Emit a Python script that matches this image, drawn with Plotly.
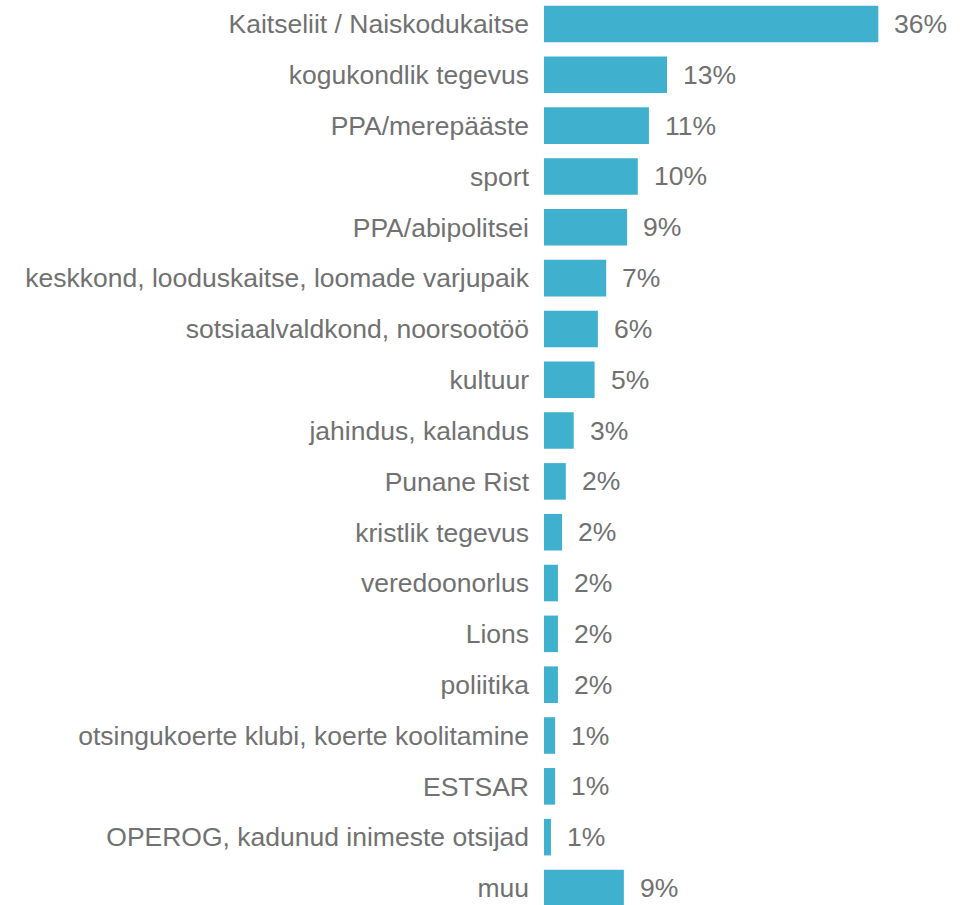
import plotly.graph_objects as go

categories = [
    "Kaitseliit / Naiskodukaitse",
    "kogukondlik tegevus",
    "PPA/merepääste",
    "sport",
    "PPA/abipolitsei",
    "keskkond, looduskaitse, loomade varjupaik",
    "sotsiaalvaldkond, noorsootöö",
    "kultuur",
    "jahindus, kalandus",
    "Punane Rist",
    "kristlik tegevus",
    "veredoonorlus",
    "Lions",
    "poliitika",
    "otsingukoerte klubi, koerte koolitamine",
    "ESTSAR",
    "OPEROG, kadunud inimeste otsijad",
    "muu",
]
values = [36.0, 13.25, 11.3, 10.1, 8.95, 6.7, 5.8, 5.45, 3.2, 2.35, 1.95, 1.5,
          1.5, 1.5, 1.2, 1.2, 0.75, 8.6]
value_labels = ["36%", "13%", "11%", "10%", "9%", "7%", "6%", "5%", "3%", "2%",
                "2%", "2%", "2%", "2%", "1%", "1%", "1%", "9%"]

BAR = "#3FB0CD"
TXT = "#717171"
FONT = "Liberation Sans, Arial, sans-serif"
FS = 26.5

fig = go.Figure()
fig.add_trace(go.Bar(
    x=values, y=categories, orientation="h",
    marker=dict(color=BAR, line=dict(width=0)),
    width=0.72,
    hoverinfo="skip",
))

for c, v, t in zip(categories, values, value_labels):
    fig.add_annotation(x=v, y=c, text=t, showarrow=False, xanchor="left",
                       yanchor="middle", xshift=14,
                       font=dict(family=FONT, size=FS, color=TXT))

fig.update_layout(
    width=973, height=905,
    margin=dict(l=544, r=0, t=0, b=0, pad=0),
    plot_bgcolor="white", paper_bgcolor="white",
    showlegend=False,
    font=dict(family=FONT, size=FS, color=TXT),
    xaxis=dict(range=[0, 46.2], visible=False, fixedrange=True),
    yaxis=dict(
        type="category", categoryorder="array", categoryarray=categories,
        range=[17.335, -0.472], showgrid=False, zeroline=False, showline=False,
        ticks="", ticklabelstandoff=14, fixedrange=True,
        tickfont=dict(family=FONT, size=FS, color=TXT),
    ),
)

fig.write_html("out.html", config={"displayModeBar": False},
               post_script="document.body.style.margin='0';document.body.style.overflow='hidden';")
